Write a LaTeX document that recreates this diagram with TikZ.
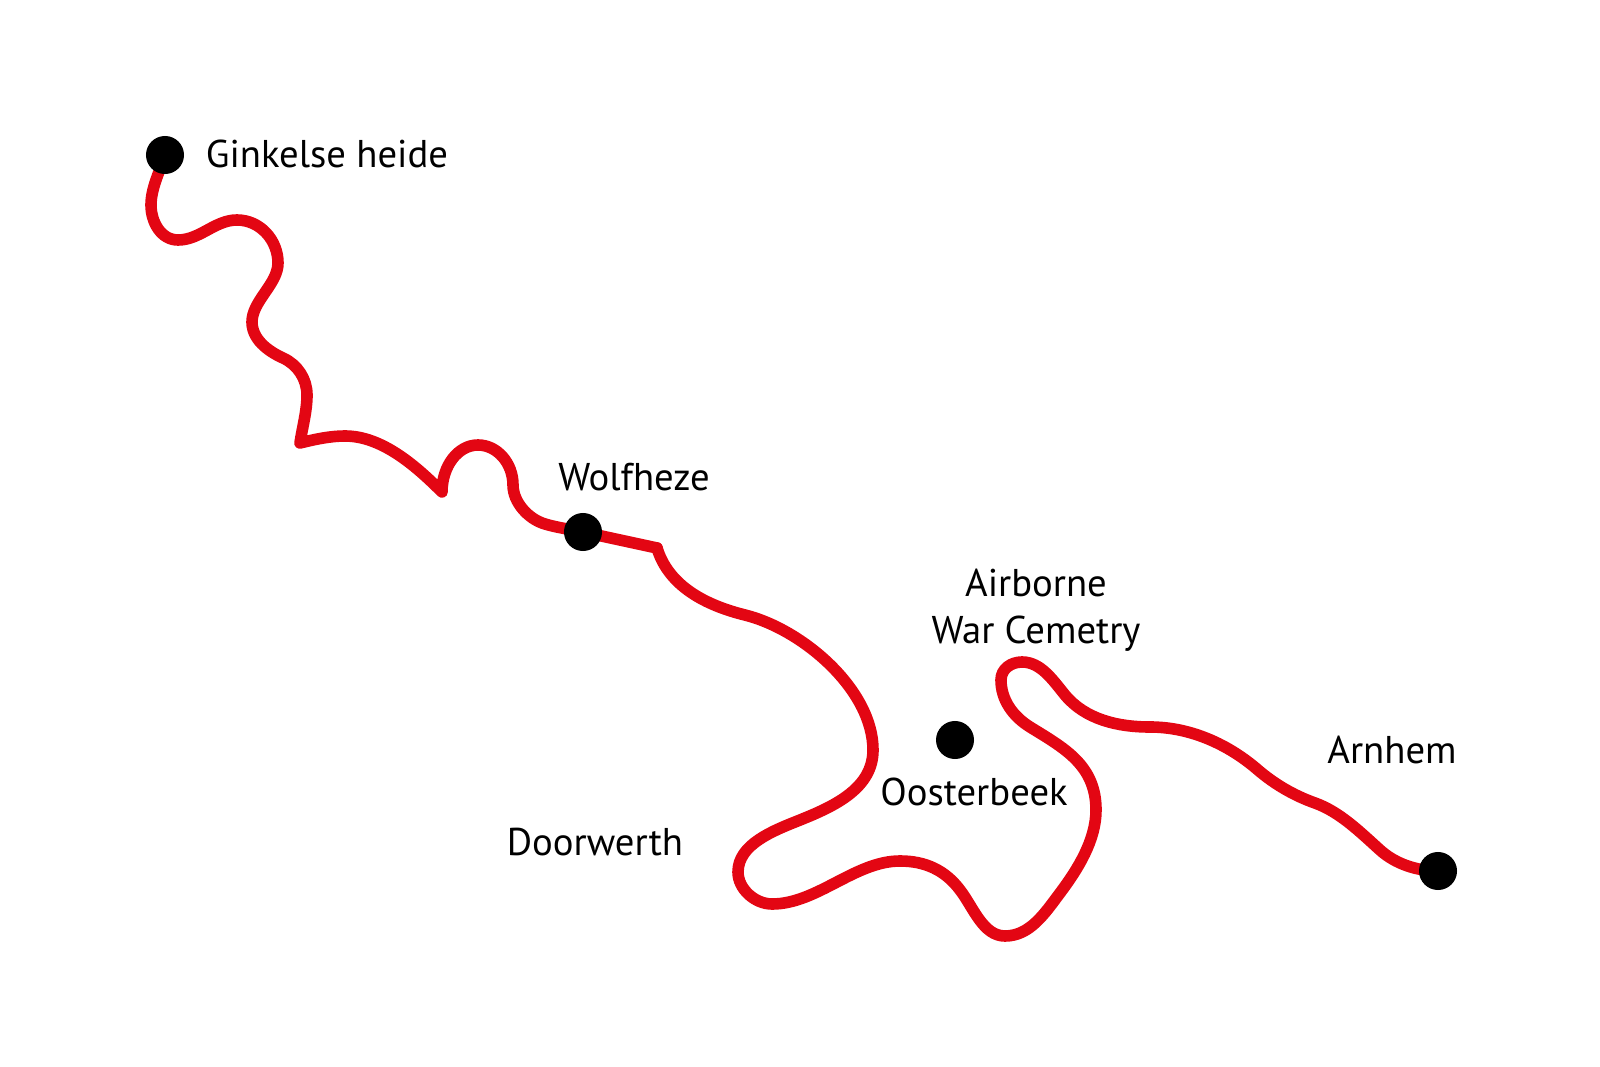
\documentclass[tikz,border=0pt]{standalone}
\usepackage{fontspec}
\setmainfont{PT Sans}
\definecolor{routered}{RGB}{227,6,19}
\tikzset{
  route/.style={draw=routered, line width=3.3pt, line cap=round, line join=round},
  place/.style={circle, fill=black, minimum size=0.38cm, inner sep=0pt},
  town/.style={font=\fontsize{11pt}{13.2pt}\selectfont, inner sep=0pt}
}
\begin{document}
\begin{tikzpicture}[x=0.01cm, y=-0.01cm]

        \useasboundingbox (0,0) rectangle (1600,1067);

        \coordinate (gink) at (165,155);
        \coordinate (wolf) at (583,532);
        \coordinate (oost) at (955,740);
        \coordinate (arnh) at (1438,871);
        \coordinate (c1)   at (300,443);
        \coordinate (c2)   at (442,492);
        \coordinate (c3)   at (657,548);

        % the route, Ginkelse heide to Wolfheze
        \draw[route] (gink) .. controls +(-5,16) and +(0,-17) .. (151,205)
          .. controls +(0,17) and +(-17,0) .. (178,240)
          .. controls +(22,0) and +(-22,0) .. (237,220)
          .. controls +(23,0) and +(0,-23) .. (278,263)
          .. controls +(0,21) and +(0,-21) .. (252,322)
          .. controls +(0,17) and +(-15.5,-7) .. (283,358)
          .. controls +(14.6,6.6) and +(0,-16) .. (307,395)
          .. controls +(0,16) and +(2.4,-16) .. (c1)
          .. controls +(14.5,-3.6) and +(-15,0) .. (345,436)
          .. controls +(37,0) and +(-26,-26) .. (c2)
          .. controls +(0,-26) and +(-20,0) .. (478,445)
          .. controls +(19,0) and +(0,-22) .. (513,485)
          .. controls +(0,17) and +(-17,-5) .. (545,524)
          .. controls +(12,3.6) and +(-12.5,-2.6) .. (wolf) -- (c3);

        % Wolfheze to Arnhem
        \draw[route] (c3) .. controls +(11.6,38.4) and +(-38.8,-9.6) .. (745,615)
          .. controls +(58,14.5) and +(0,-60) .. (873,750)
          .. controls +(0,38) and +(35,-14) .. (800,820)
          .. controls +(-26,10.4) and +(0,-28) .. (738,872)
          .. controls +(0,17) and +(-17,0) .. (772,904)
          .. controls +(45,0) and +(-45,0) .. (900,861)
          .. controls +(25,0) and +(-15,-20) .. (960,890)
          .. controls +(13.4,17.4) and +(-22,0) .. (1005,936)
          .. controls +(25,0) and +(-15,20) .. (1060,893)
          .. controls +(18,-24) and +(0,30) .. (1096,810)
          .. controls +(0,-45) and +(34,21) .. (1030,727)
          .. controls +(-17,-10.6) and +(0,20) .. (1001,680)
          .. controls +(0,-11) and +(-11,0) .. (1022,662)
          .. controls +(19,0) and +(-12,-14.6) .. (1065,695)
          .. controls +(20.5,24.6) and +(-32,0) .. (1150,727)
          .. controls +(40,0) and +(-30,-26) .. (1258,770)
          .. controls +(16.7,14.3) and +(-20.7,-7.3) .. (1315,803)
          .. controls +(25,9) and +(-20,-18) .. (1380,850)
          .. controls +(15.5,14) and +(-21,0) .. (arnh);

        \begin{scope}[every node/.style={place}]
          \node (p1) at (gink) {};
          \node (p2) at (wolf) {};
          \node (p3) at (oost) {};
          \node (p4) at (arnh) {};
        \end{scope}

        \begin{scope}[every node/.style={town}]
          \node[anchor=base] (l1) at (327,168) {Ginkelse heide};
          \node[anchor=base] (l2) at (634,491) {Wolfheze};
          \node[anchor=base] (l3) at (595,855) {Doorwerth};
          \node[align=center] (l4) at (1036,610) {Airborne\\War Cemetry};
          \node[anchor=base] (l5) at (974,805) {Oosterbeek};
          \node[anchor=base] (l6) at (1392,763) {Arnhem};
        \end{scope}

      \end{tikzpicture}
\end{document}
